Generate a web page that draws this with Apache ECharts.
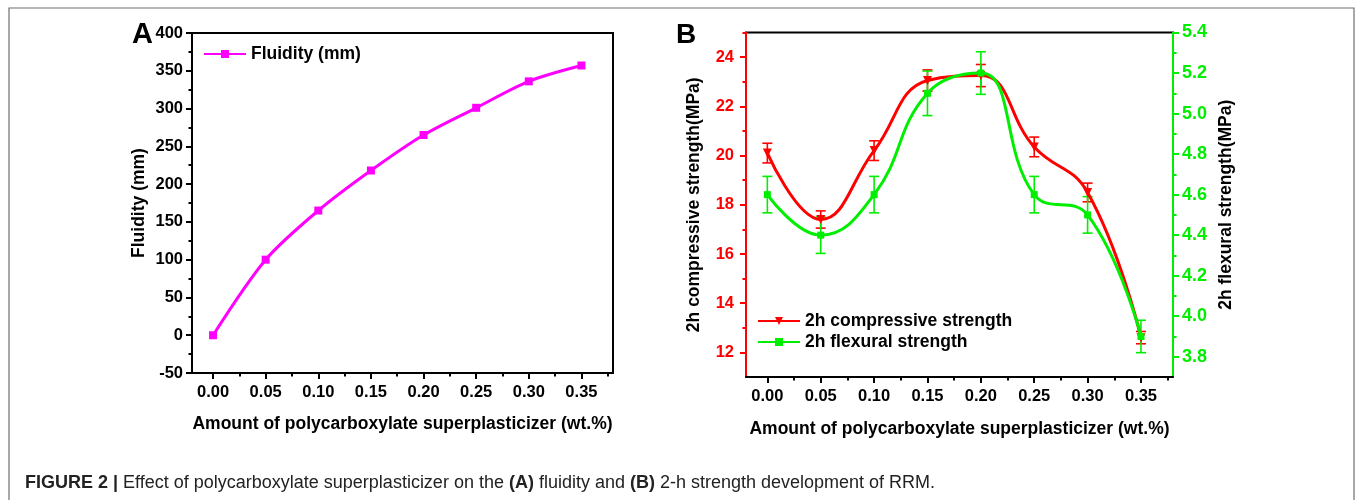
<!DOCTYPE html>
<html>
<head>
<meta charset="utf-8">
<script src="https://cdn.jsdelivr.net/npm/echarts@6/dist/echarts.min.js"></script>
<style>
html,body{margin:0;padding:0;background:#fff;}
#c{width:1355px;height:500px;}
</style>
</head>
<body>
<div id="c"></div>
<script>
// ---- data ----
const dosage = [0.00, 0.05, 0.10, 0.15, 0.20, 0.25, 0.30, 0.35];
const fluidity = [0, 100, 165, 218, 265, 301, 336, 357];
const compressive = [20.1, 17.4, 20.2, 23.05, 23.25, 20.35, 18.5, 12.6];
const compressiveErr = [0.4, 0.35, 0.4, 0.43, 0.45, 0.4, 0.38, 0.25];
const flexural = [4.6, 4.4, 4.6, 5.1, 5.2, 4.6, 4.5, 3.9];
const flexuralErr = [0.09, 0.09, 0.09, 0.11, 0.105, 0.09, 0.09, 0.08];
// tick labels / positions
const xMajorTicks = [0.00, 0.05, 0.10, 0.15, 0.20, 0.25, 0.30, 0.35];
const xMinorTicks = [0.025, 0.075, 0.125, 0.175, 0.225, 0.275, 0.325, 0.375];
const compMajorTicks = [12, 14, 16, 18, 20, 22, 24];
const compMinorTicks = [13, 15, 17, 19, 21, 23, 25];
const flexMajorTicks = [3.8, 4.0, 4.2, 4.4, 4.6, 4.8, 5.0, 5.2, 5.4];
const flexMinorTicks = [3.9, 4.1, 4.3, 4.5, 4.7, 4.9, 5.1, 5.3];

const FONT = 'Liberation Sans, Arial, sans-serif';
const RED = '#ff0000', GREEN = '#00ee00', MAG = '#ff00ff';

const chart = echarts.init(document.getElementById('c'), null, {renderer: 'canvas'});

function pairs(ys) { return dosage.map((x, i) => [x, ys[i]]); }
function errData(ys, es) { return dosage.map((x, i) => [x, ys[i] - es[i], ys[i] + es[i]]); }
function errRender(color) {
  return function (params, api) {
    const x = api.value(0), lo = api.value(1), hi = api.value(2);
    const p1 = api.coord([x, lo]), p2 = api.coord([x, hi]);
    const w = 5;
    const st = {stroke: color, lineWidth: 1.6};
    return {type: 'group', children: [
      {type: 'line', shape: {x1: p1[0], y1: p1[1], x2: p2[0], y2: p2[1]}, style: st},
      {type: 'line', shape: {x1: p1[0] - w, y1: p1[1], x2: p1[0] + w, y2: p1[1]}, style: st},
      {type: 'line', shape: {x1: p2[0] - w, y1: p2[1], x2: p2[0] + w, y2: p2[1]}, style: st}
    ]};
  };
}

const tickLbl = {fontFamily: FONT, fontWeight: 'bold', fontSize: 16.5, color: '#000'};
const nameStyle = {fontFamily: FONT, fontWeight: 'bold', fontSize: 17.5, color: '#000'};

function mainX(gridIndex) {
  return {
    type: 'value', gridIndex, min: -0.02, max: 0.38, position: 'bottom',
    name: 'Amount of polycarboxylate superplasticizer (wt.%)', nameLocation: 'middle',
    nameGap: gridIndex === 0 ? 42 : 43, nameTextStyle: nameStyle,
    axisLine: {show: true, onZero: false, lineStyle: {color: '#000', width: 2}},
    axisTick: {show: true, customValues: xMajorTicks, length: 6, lineStyle: {color: '#000', width: 2}},
    axisLabel: {show: true, customValues: xMajorTicks, margin: 11, ...tickLbl,
      formatter: v => Number(v).toFixed(2)},
    splitLine: {show: false}
  };
}
function minorX(gridIndex) {
  return {
    type: 'value', gridIndex, min: -0.02, max: 0.38, position: 'bottom',
    axisLine: {show: false, onZero: false},
    axisTick: {show: true, customValues: xMinorTicks, length: 3.5, lineStyle: {color: '#000', width: 2}},
    axisLabel: {show: false}, splitLine: {show: false}
  };
}

const option = {
  animation: false,
  backgroundColor: '#fff',
  grid: [
    {left: 192, top: 33, right: 1355 - 613, bottom: 500 - 373, show: true, borderColor: '#000', borderWidth: 2, containLabel: false},
    {left: 746, top: 32.5, right: 1355 - 1173, bottom: 500 - 377, show: true, borderColor: '#000', borderWidth: 2, containLabel: false}
  ],
  xAxis: [mainX(0), minorX(0), mainX(1), minorX(1)],
  yAxis: [
    { // A
      type: 'value', gridIndex: 0, min: -50, max: 400, interval: 50, position: 'left',
      name: 'Fluidity (mm)', nameLocation: 'middle', nameGap: 44, nameTextStyle: nameStyle,
      axisLine: {show: true, onZero: false, lineStyle: {color: '#000', width: 2}},
      axisTick: {show: true, length: 6, lineStyle: {color: '#000', width: 2}},
      minorTick: {show: true, splitNumber: 2, length: 3.5, lineStyle: {color: '#000', width: 2}},
      axisLabel: {margin: 9, ...tickLbl},
      splitLine: {show: false}
    },
    { // B left main
      type: 'value', gridIndex: 1, min: 11, max: 25, position: 'left', offset: 0,
      name: '2h compressive strength(MPa)', nameLocation: 'middle', nameGap: 43, nameTextStyle: nameStyle,
      axisLine: {show: true, onZero: false, lineStyle: {color: RED, width: 2}},
      axisTick: {show: true, customValues: compMajorTicks, length: 6, lineStyle: {color: RED, width: 2}},
      axisLabel: {customValues: compMajorTicks, margin: 12, ...tickLbl, color: RED},
      splitLine: {show: false}
    },
    { // B right main
      type: 'value', gridIndex: 1, min: 3.7, max: 5.4, position: 'right', offset: 0,
      name: '2h flexural strength(MPa)', nameLocation: 'middle', nameGap: 44, nameTextStyle: nameStyle,
      axisLine: {show: true, onZero: false, lineStyle: {color: GREEN, width: 2}},
      axisTick: {show: true, customValues: flexMajorTicks, length: 6, lineStyle: {color: GREEN, width: 2}},
      axisLabel: {customValues: flexMajorTicks, margin: 9, ...tickLbl, fontSize: 18, color: GREEN,
        formatter: v => Number(v).toFixed(1)},
      splitLine: {show: false}
    },
    { // B left minor
      type: 'value', gridIndex: 1, min: 11, max: 25, position: 'left', offset: 0,
      axisLine: {show: false, onZero: false},
      axisTick: {show: true, customValues: compMinorTicks, length: 3.5, lineStyle: {color: RED, width: 2}},
      axisLabel: {show: false}, splitLine: {show: false}
    },
    { // B right minor
      type: 'value', gridIndex: 1, min: 3.7, max: 5.4, position: 'right', offset: 0,
      axisLine: {show: false, onZero: false},
      axisTick: {show: true, customValues: flexMinorTicks, length: 3.5, lineStyle: {color: GREEN, width: 2}},
      axisLabel: {show: false}, splitLine: {show: false}
    }
  ],
  legend: [
    {
      data: ['Fluidity (mm)'], left: 203, top: 45, orient: 'vertical', padding: 0,
      itemWidth: 42, itemHeight: 10, itemGap: 6,
      textStyle: {fontFamily: FONT, fontWeight: 'bold', fontSize: 17.5, color: '#000'}
    },
    {
      data: ['2h compressive strength', '2h flexural strength'], left: 757, top: 312, orient: 'vertical', padding: 0,
      itemWidth: 42, itemHeight: 10, itemGap: 3,
      textStyle: {fontFamily: FONT, fontWeight: 'bold', fontSize: 17.5, color: '#000'}
    }
  ],
  series: [
    {
      name: 'Fluidity (mm)', type: 'line', xAxisIndex: 0, yAxisIndex: 0,
      data: pairs(fluidity), smooth: 0.3, symbol: 'rect', symbolSize: 8,
      lineStyle: {color: MAG, width: 3}, itemStyle: {color: MAG}
    },
    {
      name: 'compErr', type: 'custom', xAxisIndex: 2, yAxisIndex: 1,
      data: errData(compressive, compressiveErr), renderItem: errRender(RED),
      encode: {x: 0, y: [1, 2]}, z: 3
    },
    {
      name: 'flexErr', type: 'custom', xAxisIndex: 2, yAxisIndex: 2,
      data: errData(flexural, flexuralErr), renderItem: errRender(GREEN),
      encode: {x: 0, y: [1, 2]}, z: 3
    },
    {
      name: '2h compressive strength', type: 'line', xAxisIndex: 2, yAxisIndex: 1,
      data: pairs(compressive), smooth: 0.45, symbol: 'triangle', symbolRotate: 180, symbolSize: 9,
      lineStyle: {color: RED, width: 3}, itemStyle: {color: RED}, z: 4
    },
    {
      name: '2h flexural strength', type: 'line', xAxisIndex: 2, yAxisIndex: 2,
      data: pairs(flexural), smooth: 0.45, symbol: 'rect', symbolSize: 7,
      lineStyle: {color: GREEN, width: 3}, itemStyle: {color: GREEN}, z: 5
    }
  ],
  graphic: [
    {type: 'rect', shape: {x: 9, y: 8, width: 1345, height: 520}, style: {fill: null, stroke: '#6e6e6e', lineWidth: 1.2}, silent: true, z: -1},
    {type: 'text', left: 132, top: 20, style: {text: 'A', font: 'bold 29px ' + FONT, fill: '#000'}},
    {type: 'text', left: 676, top: 21, style: {text: 'B', font: 'bold 28px ' + FONT, fill: '#000'}},
    {type: 'text', left: 25, top: 474, style: {
      text: '{b|FIGURE 2 |} Effect of polycarboxylate superplasticizer on the {b|(A)} fluidity and {b|(B)} 2-h strength development of RRM.',
      font: '18px ' + FONT, fill: '#222',
      rich: {b: {font: 'bold 18px ' + FONT, fill: '#222'}}
    }}
  ]
};
chart.setOption(option);
</script>
</body>
</html>
